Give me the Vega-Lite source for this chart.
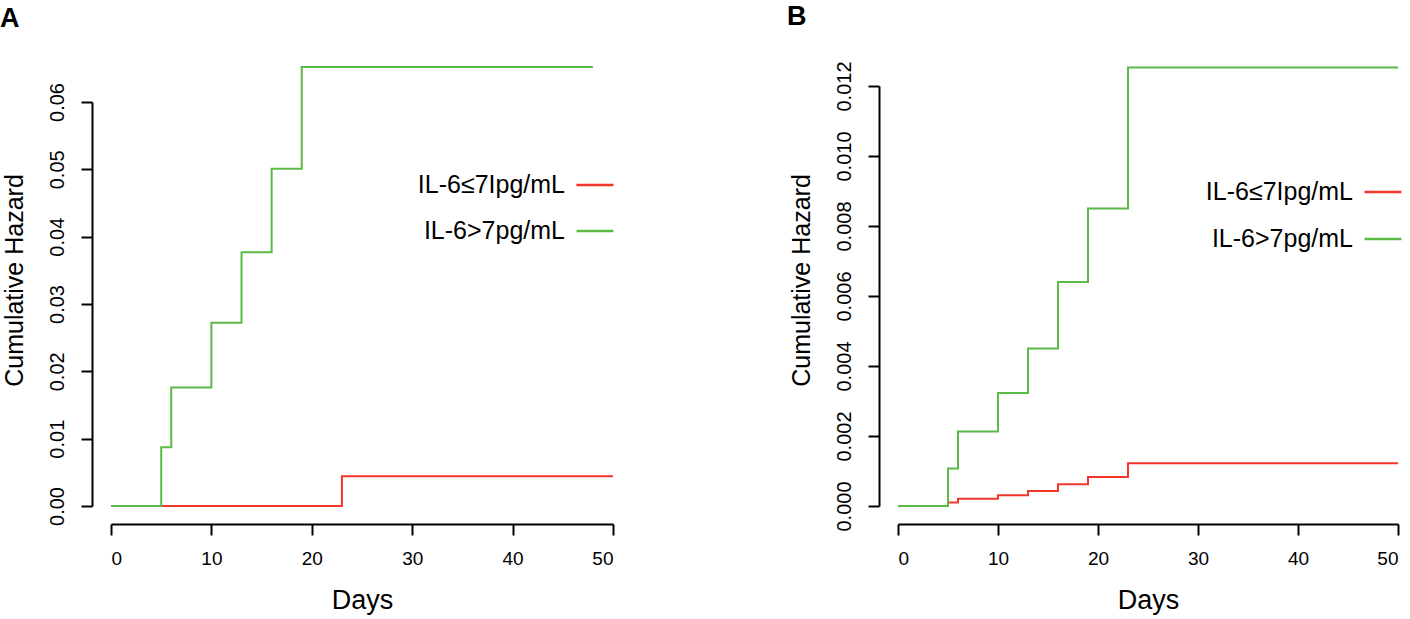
{
  "$schema": "https://vega.github.io/schema/vega-lite/v6.json",
  "padding": {"left": 0, "top": 2, "right": 5, "bottom": 5},
  "background": "white",
  "config": {
    "view": {"stroke": null},
    "font": "Liberation Sans",
    "axis": {
      "grid": false,
      "domainColor": "black",
      "domainWidth": 2,
      "tickColor": "black",
      "tickWidth": 2,
      "tickSize": 11,
      "labelColor": "black",
      "labelFont": "Liberation Sans",
      "titleColor": "black",
      "titleFont": "Liberation Sans",
      "titleFontWeight": "normal"
    },
    "axisX": {"offset": 18, "labelFontSize": 19, "labelPadding": 14, "titleFontSize": 27, "titlePadding": 19},
    "axisY": {"offset": 19, "labelFontSize": 20, "labelAngle": -90, "labelAlign": "center", "labelBaseline": "bottom", "labelPadding": 14, "titleFontSize": 25, "titlePadding": 20, "titleY": 194},
    "title": {"anchor": "start", "frame": "bounds", "fontSize": 27, "fontWeight": "bold", "color": "black", "font": "Liberation Sans", "dx": -2, "offset": 30}
  },
  "datasets": {
    "hazard": [
      {"panel": "A", "group": "IL-6≤7Ipg/mL", "day": 0, "hazard": 0},
      {"panel": "A", "group": "IL-6≤7Ipg/mL", "day": 23, "hazard": 0.0044},
      {"panel": "A", "group": "IL-6≤7Ipg/mL", "day": 50, "hazard": 0.0044},
      {"panel": "A", "group": "IL-6>7pg/mL", "day": 0, "hazard": 0},
      {"panel": "A", "group": "IL-6>7pg/mL", "day": 5, "hazard": 0.00874},
      {"panel": "A", "group": "IL-6>7pg/mL", "day": 6, "hazard": 0.0176},
      {"panel": "A", "group": "IL-6>7pg/mL", "day": 10, "hazard": 0.0272},
      {"panel": "A", "group": "IL-6>7pg/mL", "day": 13, "hazard": 0.0377},
      {"panel": "A", "group": "IL-6>7pg/mL", "day": 16, "hazard": 0.0501},
      {"panel": "A", "group": "IL-6>7pg/mL", "day": 19, "hazard": 0.0652},
      {"panel": "A", "group": "IL-6>7pg/mL", "day": 48, "hazard": 0.0652},
      {"panel": "B", "group": "IL-6≤7Ipg/mL", "day": 0, "hazard": 0},
      {"panel": "B", "group": "IL-6≤7Ipg/mL", "day": 5, "hazard": 0.0001},
      {"panel": "B", "group": "IL-6≤7Ipg/mL", "day": 6, "hazard": 0.00021},
      {"panel": "B", "group": "IL-6≤7Ipg/mL", "day": 10, "hazard": 0.00031},
      {"panel": "B", "group": "IL-6≤7Ipg/mL", "day": 13, "hazard": 0.00043},
      {"panel": "B", "group": "IL-6≤7Ipg/mL", "day": 16, "hazard": 0.00062},
      {"panel": "B", "group": "IL-6≤7Ipg/mL", "day": 19, "hazard": 0.00083},
      {"panel": "B", "group": "IL-6≤7Ipg/mL", "day": 23, "hazard": 0.00122},
      {"panel": "B", "group": "IL-6≤7Ipg/mL", "day": 50, "hazard": 0.00122},
      {"panel": "B", "group": "IL-6>7pg/mL", "day": 0, "hazard": 0},
      {"panel": "B", "group": "IL-6>7pg/mL", "day": 5, "hazard": 0.00107},
      {"panel": "B", "group": "IL-6>7pg/mL", "day": 6, "hazard": 0.00213},
      {"panel": "B", "group": "IL-6>7pg/mL", "day": 10, "hazard": 0.00323},
      {"panel": "B", "group": "IL-6>7pg/mL", "day": 13, "hazard": 0.0045},
      {"panel": "B", "group": "IL-6>7pg/mL", "day": 16, "hazard": 0.0064},
      {"panel": "B", "group": "IL-6>7pg/mL", "day": 19, "hazard": 0.0085},
      {"panel": "B", "group": "IL-6>7pg/mL", "day": 23, "hazard": 0.01253},
      {"panel": "B", "group": "IL-6>7pg/mL", "day": 50, "hazard": 0.01253}
    ]
  },
  "spacing": 168,
  "resolve": {"scale": {"color": "independent"}},
  "hconcat": [
    {
      "title": "A",
      "width": 502,
      "height": 420,
      "data": {"name": "hazard"},
      "transform": [{"filter": "datum.panel === 'A'"}],
      "mark": {"type": "line", "interpolate": "step-after", "strokeWidth": 2, "clip": false},
      "encoding": {
        "x": {"field": "day", "type": "quantitative", "title": "Days",
              "scale": {"domain": [0, 50], "nice": false},
              "axis": {"values": [0, 10, 20, 30, 40, 50]}},
        "y": {"field": "hazard", "type": "quantitative", "title": "Cumulative Hazard",
              "scale": {"domain": [0, 0.06], "nice": false, "range": [420, 16]},
              "axis": {"values": [0, 0.01, 0.02, 0.03, 0.04, 0.05, 0.06], "format": ".2f"}},
        "color": {"field": "group", "type": "nominal",
                  "scale": {"domain": ["IL-6≤7Ipg/mL", "IL-6>7pg/mL"], "range": ["#F5372B", "#5CBA47"]},
                  "legend": {"orient": "none", "legendX": 464, "legendY": 79, "direction": "vertical",
                             "title": null, "symbolType": "stroke", "symbolSize": 1369, "symbolStrokeWidth": 2.5,
                             "labelAlign": "right", "labelOffset": -50, "labelFontSize": 25, "labelLimit": 300,
                             "labelColor": "black", "rowPadding": 13}},
        "order": {"field": "day", "type": "quantitative"}
      }
    },
    {
      "title": "B",
      "width": 500,
      "height": 420,
      "data": {"name": "hazard"},
      "transform": [{"filter": "datum.panel === 'B'"}],
      "mark": {"type": "line", "interpolate": "step-after", "strokeWidth": 2, "clip": false},
      "encoding": {
        "x": {"field": "day", "type": "quantitative", "title": "Days",
              "scale": {"domain": [0, 50], "nice": false},
              "axis": {"values": [0, 10, 20, 30, 40, 50]}},
        "y": {"field": "hazard", "type": "quantitative", "title": "Cumulative Hazard",
              "scale": {"domain": [0, 0.012], "nice": false, "range": [420, 0]},
              "axis": {"values": [0, 0.002, 0.004, 0.006, 0.008, 0.01, 0.012], "format": ".3f"}},
        "color": {"field": "group", "type": "nominal",
                  "scale": {"domain": ["IL-6≤7Ipg/mL", "IL-6>7pg/mL"], "range": ["#F5372B", "#5CBA47"]},
                  "legend": {"orient": "none", "legendX": 465, "legendY": 86, "direction": "vertical",
                             "title": null, "symbolType": "stroke", "symbolSize": 1369, "symbolStrokeWidth": 2.5,
                             "labelAlign": "right", "labelOffset": -50, "labelFontSize": 25, "labelLimit": 300,
                             "labelColor": "black", "rowPadding": 14}},
        "order": {"field": "day", "type": "quantitative"}
      }
    }
  ]
}
